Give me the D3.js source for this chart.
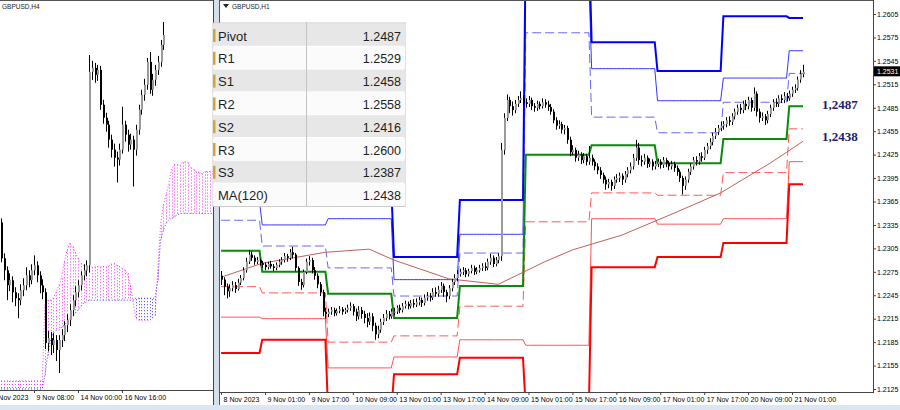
<!DOCTYPE html>
<html>
<head>
<meta charset="utf-8">
<script src="https://cdn.jsdelivr.net/npm/d3@7"></script>
<style>
  body { margin: 0; background: #fff; }
  svg { display: block; font-family: "Liberation Sans", Arial, sans-serif; }
</style>
</head>
<body>
<div id="chart"></div>
<script>
// ---------- H1 chart (right panel) ----------
const h1TickBars = [0, 16, 32, 48, 64, 80, 96, 112, 128, 144, 160, 176, 192, 208];
const h1TickLabels = ["8 Nov 2023", "9 Nov 01:00", "9 Nov 17:00", "10 Nov 09:00", "13 Nov 01:00",
  "13 Nov 17:00", "14 Nov 09:00", "15 Nov 01:00", "15 Nov 17:00", "16 Nov 09:00",
  "17 Nov 01:00", "17 Nov 17:00", "20 Nov 09:00", "21 Nov 01:00"];

const h1Open0 = 1.2270;
const h1Close = [
  1.2265, 1.2256, 1.2250, 1.2254, 1.2258, 1.2253, 1.2261, 1.2267, 1.2277, 1.2288, 1.2297, 1.2293, 1.2288, 1.2290, 1.2286,
  1.2284, 1.2281, 1.2285, 1.2282, 1.2280, 1.2284, 1.2288, 1.2290, 1.2295, 1.2293, 1.2300, 1.2297, 1.2280, 1.2262, 1.2258, 1.2275, 1.2288, 1.2290, 1.2277, 1.2270, 1.2259, 1.2249, 1.2224, 1.2221,
  1.2224, 1.2226, 1.2222, 1.2225, 1.2227, 1.2224, 1.2226, 1.2229, 1.2231, 1.2224, 1.2218, 1.2226, 1.2221, 1.2216, 1.2211, 1.2218, 1.2206, 1.2195, 1.2201, 1.2211, 1.2216, 1.2221, 1.2218, 1.2224,
  1.2224, 1.2229, 1.2226, 1.2231, 1.2234, 1.2231, 1.2235, 1.2233, 1.2236, 1.2239, 1.2235, 1.2242, 1.2244, 1.2242, 1.2249, 1.2247, 1.2252, 1.2257, 1.2249, 1.2244, 1.2254, 1.2262, 1.2267, 1.2272,
  1.2275, 1.2277, 1.2272, 1.2276, 1.2280, 1.2275, 1.2277, 1.2280, 1.2282, 1.2280, 1.2288, 1.2293, 1.2285, 1.2290, 1.2295, 1.2431, 1.2472, 1.2495, 1.2487, 1.2482, 1.2490, 1.2495, 1.2497, 1.2492,
  1.2490, 1.2495, 1.2487, 1.2485, 1.2490, 1.2487, 1.2492, 1.2489, 1.2486, 1.2480, 1.2469, 1.2462, 1.2464, 1.2457, 1.2459, 1.2444, 1.2428, 1.2431, 1.2421, 1.2425, 1.2418, 1.2423, 1.2416, 1.2421,
  1.2416, 1.2410, 1.2405, 1.2399, 1.2393, 1.2387, 1.2390, 1.2385, 1.2393, 1.2395, 1.2398, 1.2393, 1.2400, 1.2405, 1.2410, 1.2421, 1.2434, 1.2418, 1.2416, 1.2421, 1.2413, 1.2416, 1.2410, 1.2413,
  1.2416, 1.2412, 1.2418, 1.2414, 1.2410, 1.2413, 1.2408, 1.2403, 1.2395, 1.2385, 1.2393, 1.2403, 1.2410, 1.2418, 1.2416, 1.2423, 1.2421, 1.2431, 1.2436, 1.2441, 1.2449, 1.2454, 1.2459, 1.2462,
  1.2464, 1.2469, 1.2467, 1.2474, 1.2480, 1.2485, 1.2482, 1.2490, 1.2487, 1.2495, 1.2485, 1.2503, 1.2480, 1.2472, 1.2474, 1.2469, 1.2477, 1.2485, 1.2492, 1.2490, 1.2497, 1.2495, 1.2500, 1.2497,
  1.2503, 1.2508, 1.2510, 1.2521, 1.2528, 1.2531
];
const h1High = [
  1.2276, 1.2268, 1.2260, 1.2259, 1.2263, 1.2262, 1.2266, 1.2271, 1.2281, 1.2293, 1.2303, 1.2301, 1.2296, 1.2294, 1.2292,
  1.2289, 1.2287, 1.2288, 1.2289, 1.2285, 1.2287, 1.2291, 1.2294, 1.2299, 1.2298, 1.2304, 1.2307, 1.2299, 1.2282, 1.2266, 1.2278, 1.2292, 1.2295, 1.2293, 1.2281, 1.2273, 1.2262, 1.2252, 1.2229,
  1.2228, 1.2230, 1.2229, 1.2228, 1.2231, 1.2230, 1.2229, 1.2233, 1.2236, 1.2234, 1.2228, 1.2231, 1.2230, 1.2225, 1.2222, 1.2223, 1.2222, 1.2210, 1.2206, 1.2215, 1.2221, 1.2226, 1.2225, 1.2228,
  1.2229, 1.2232, 1.2233, 1.2235, 1.2238, 1.2237, 1.2239, 1.2240, 1.2241, 1.2243, 1.2242, 1.2246, 1.2249, 1.2248, 1.2254, 1.2255, 1.2257, 1.2262, 1.2260, 1.2252, 1.2258, 1.2266, 1.2272, 1.2277,
  1.2279, 1.2281, 1.2280, 1.2279, 1.2284, 1.2283, 1.2281, 1.2284, 1.2286, 1.2287, 1.2292, 1.2298, 1.2296, 1.2294, 1.2299, 1.2440, 1.2478, 1.2502, 1.2499, 1.2493, 1.2495, 1.2500, 1.2506, 1.2501,
  1.2497, 1.2500, 1.2498, 1.2491, 1.2494, 1.2493, 1.2497, 1.2496, 1.2494, 1.2490, 1.2483, 1.2473, 1.2469, 1.2467, 1.2463, 1.2462, 1.2448, 1.2437, 1.2434, 1.2430, 1.2428, 1.2427, 1.2426, 1.2436,
  1.2425, 1.2419, 1.2414, 1.2409, 1.2402, 1.2397, 1.2394, 1.2393, 1.2397, 1.2400, 1.2402, 1.2401, 1.2404, 1.2409, 1.2415, 1.2426, 1.2444, 1.2440, 1.2424, 1.2426, 1.2424, 1.2420, 1.2419, 1.2417,
  1.2420, 1.2419, 1.2422, 1.2421, 1.2417, 1.2417, 1.2416, 1.2411, 1.2406, 1.2398, 1.2397, 1.2407, 1.2414, 1.2422, 1.2423, 1.2427, 1.2428, 1.2435, 1.2440, 1.2446, 1.2453, 1.2459, 1.2463, 1.2467,
  1.2468, 1.2473, 1.2474, 1.2478, 1.2484, 1.2489, 1.2490, 1.2494, 1.2495, 1.2499, 1.2498, 1.2511, 1.2506, 1.2484, 1.2479, 1.2477, 1.2481, 1.2489, 1.2496, 1.2497, 1.2501, 1.2502, 1.2505, 1.2504,
  1.2507, 1.2512, 1.2515, 1.2525, 1.2533, 1.2540
];
const h1Low = [
  1.2258, 1.2245, 1.2241, 1.2243, 1.2250, 1.2248, 1.2251, 1.2258, 1.2264, 1.2274, 1.2285, 1.2289, 1.2284, 1.2285, 1.2283,
  1.2280, 1.2277, 1.2278, 1.2279, 1.2276, 1.2277, 1.2281, 1.2284, 1.2287, 1.2288, 1.2290, 1.2292, 1.2276, 1.2257, 1.2252, 1.2255, 1.2272, 1.2283, 1.2273, 1.2265, 1.2254, 1.2244, 1.2218, 1.2215,
  1.2217, 1.2220, 1.2218, 1.2219, 1.2222, 1.2220, 1.2221, 1.2223, 1.2225, 1.2219, 1.2212, 1.2214, 1.2215, 1.2209, 1.2204, 1.2207, 1.2199, 1.2188, 1.2190, 1.2197, 1.2207, 1.2212, 1.2214, 1.2215,
  1.2219, 1.2221, 1.2222, 1.2223, 1.2228, 1.2227, 1.2228, 1.2229, 1.2230, 1.2232, 1.2230, 1.2232, 1.2238, 1.2237, 1.2239, 1.2243, 1.2243, 1.2248, 1.2243, 1.2236, 1.2240, 1.2250, 1.2258, 1.2263,
  1.2269, 1.2271, 1.2268, 1.2269, 1.2273, 1.2271, 1.2272, 1.2274, 1.2276, 1.2276, 1.2277, 1.2284, 1.2281, 1.2282, 1.2286, 1.2289, 1.2425, 1.2468, 1.2478, 1.2475, 1.2478, 1.2486, 1.2491, 1.2488,
  1.2485, 1.2486, 1.2482, 1.2480, 1.2481, 1.2483, 1.2484, 1.2485, 1.2481, 1.2476, 1.2465, 1.2457, 1.2458, 1.2452, 1.2451, 1.2439, 1.2423, 1.2424, 1.2416, 1.2417, 1.2413, 1.2414, 1.2411, 1.2412,
  1.2411, 1.2405, 1.2400, 1.2394, 1.2388, 1.2380, 1.2382, 1.2379, 1.2381, 1.2389, 1.2390, 1.2386, 1.2389, 1.2396, 1.2401, 1.2406, 1.2417, 1.2412, 1.2410, 1.2412, 1.2408, 1.2409, 1.2405, 1.2406,
  1.2409, 1.2407, 1.2408, 1.2409, 1.2405, 1.2406, 1.2403, 1.2398, 1.2390, 1.2374, 1.2380, 1.2389, 1.2399, 1.2406, 1.2411, 1.2412, 1.2416, 1.2418, 1.2426, 1.2432, 1.2437, 1.2445, 1.2450, 1.2455,
  1.2457, 1.2460, 1.2462, 1.2463, 1.2470, 1.2476, 1.2477, 1.2478, 1.2482, 1.2483, 1.2480, 1.2481, 1.2474, 1.2466, 1.2468, 1.2463, 1.2465, 1.2473, 1.2481, 1.2486, 1.2486, 1.2491, 1.2491, 1.2493,
  1.2494, 1.2499, 1.2504, 1.2507, 1.2517, 1.2524
];

// first bar of each trading day (8, 9, 10, 13, 14, 15, 16, 17, 20, 21 Nov)
const dayStart = [0, 15, 39, 63, 87, 111, 135, 159, 183, 207];
// daily pivot levels, one value per day
const levelR3 = [1.2400, 1.2375, 1.2385, 1.2294, 1.2367, 1.2700, 1.2569, 1.2532, 1.2602, 1.2600];
const levelR2 = [1.2365, 1.2335, 1.2343, 1.2265, 1.2323, 1.2650, 1.2535, 1.2494, 1.2523, 1.2558];
const levelR1 = [1.2341, 1.2308, 1.2280, 1.2244, 1.2299, 1.2581, 1.2473, 1.2453, 1.2492, 1.2529];
const levelP  = [1.2302, 1.2275, 1.2247, 1.2216, 1.2257, 1.2425, 1.2437, 1.2414, 1.2445, 1.2487];
const levelS1 = [1.2256, 1.2248, 1.2185, 1.2193, 1.2231, 1.2339, 1.2376, 1.2373, 1.2402, 1.2458];
const levelS2 = [1.2217, 1.2215, 1.2152, 1.2166, 1.2188, 1.2181, 1.2343, 1.2336, 1.2343, 1.2416];
const levelS3 = [1.2171, 1.2188, 1.2095, 1.2144, 1.2165, 1.2100, 1.2281, 1.2294, 1.2312, 1.2387];

// MA(120) read at a few bars
const maBar   = [0, 15, 38, 54, 63, 83, 101, 118, 128, 146, 165, 182, 190, 200, 212];
const maValue = [1.2268, 1.2286, 1.2300, 1.2304, 1.2290, 1.2266, 1.2259, 1.2288, 1.2303, 1.2322, 1.2350, 1.2376, 1.2393, 1.2414, 1.2442];

const priceTicks = [1.2125, 1.2155, 1.2185, 1.2215, 1.2245, 1.2275, 1.2305, 1.2335, 1.2365,
  1.2395, 1.2425, 1.2455, 1.2485, 1.2515, 1.2545, 1.2575, 1.2605];
const lastPrice = 1.2531;

const tableNames  = ["Pivot", "R1", "S1", "R2", "S2", "R3", "S3", "MA(120)"];
const tableValues = ["1.2487", "1.2529", "1.2458", "1.2558", "1.2416", "1.2600", "1.2387", "1.2438"];
const noteValues  = [1.2487, 1.2438];
const noteTexts   = ["1,2487", "1,2438"];

// ---------- H4 chart (left panel) ----------
const h4TickBars = [-4, 12, 28, 44];
const h4TickLabels = ["6 Nov 2023", "9 Nov 08:00", "14 Nov 00:00", "16 Nov 16:00"];
const h4Open0 = 1.2339;
const h4Close = [
  1.2303, 1.2291, 1.2276, 1.2281, 1.2269, 1.2263, 1.2261, 1.2271, 1.2276, 1.2286,
  1.2281, 1.2291, 1.2296, 1.2286, 1.2276, 1.2269, 1.2218, 1.2223, 1.2216, 1.2221,
  1.2211, 1.2221, 1.2226, 1.2236, 1.2241, 1.2251, 1.2261, 1.2269, 1.2276, 1.2286,
  1.2291, 1.2296, 1.2490, 1.2494, 1.2487, 1.2492, 1.2457, 1.2444, 1.2437, 1.2422,
  1.2412, 1.2404, 1.2402, 1.2412, 1.2437, 1.2427, 1.2417, 1.2422, 1.2412, 1.2432,
  1.2452, 1.2467, 1.2477, 1.2500, 1.2472, 1.2482, 1.2492, 1.2500, 1.2517, 1.2527
];
const h4High = [
  1.2343, 1.2308, 1.2295, 1.2288, 1.2285, 1.2274, 1.2268, 1.2277, 1.2283, 1.2294,
  1.2291, 1.2297, 1.2306, 1.2300, 1.2290, 1.2282, 1.2273, 1.2230, 1.2229, 1.2228,
  1.2226, 1.2226, 1.2232, 1.2240, 1.2247, 1.2257, 1.2266, 1.2275, 1.2281, 1.2290,
  1.2297, 1.2301, 1.2507, 1.2501, 1.2499, 1.2497, 1.2496, 1.2462, 1.2449, 1.2441,
  1.2427, 1.2418, 1.2410, 1.2418, 1.2455, 1.2441, 1.2432, 1.2428, 1.2426, 1.2437,
  1.2457, 1.2472, 1.2483, 1.2504, 1.2510, 1.2488, 1.2497, 1.2506, 1.2522, 1.2540
];
const h4Low = [
  1.2299, 1.2281, 1.2261, 1.2270, 1.2259, 1.2255, 1.2243, 1.2256, 1.2265, 1.2271,
  1.2274, 1.2277, 1.2286, 1.2279, 1.2268, 1.2262, 1.2212, 1.2210, 1.2206, 1.2208,
  1.2200, 1.2188, 1.2214, 1.2220, 1.2229, 1.2235, 1.2245, 1.2255, 1.2264, 1.2271,
  1.2281, 1.2285, 1.2289, 1.2482, 1.2479, 1.2481, 1.2452, 1.2438, 1.2430, 1.2414,
  1.2404, 1.2395, 1.2379, 1.2396, 1.2408, 1.2420, 1.2410, 1.2412, 1.2375, 1.2406,
  1.2427, 1.2447, 1.2461, 1.2472, 1.2468, 1.2466, 1.2476, 1.2487, 1.2495, 1.2512
];
// Ichimoku spans (shifted forward), one value per bar slot
const spanA = [
  1.2180, 1.2180, 1.2180, 1.2180, 1.2180, 1.2180, 1.2180, 1.2180, 1.2180, 1.2180, 1.2180, 1.2180, 1.2180, 1.2180, 1.2180, 1.2180,
  1.2259, 1.2261, 1.2261, 1.2263, 1.2269, 1.2276, 1.2283, 1.2299, 1.2311, 1.2318,
  1.2315, 1.2309, 1.2303, 1.2298, 1.2296, 1.2295, 1.2295, 1.2294, 1.2294, 1.2295,
  1.2294, 1.2295, 1.2294, 1.2295, 1.2297, 1.2298, 1.2296, 1.2295, 1.2293, 1.2291,
  1.2288, 1.2276, 1.2261, 1.2243, 1.2241, 1.2241, 1.2241, 1.2241, 1.2241, 1.2243,
  1.2246, 1.2291, 1.2336, 1.2356, 1.2367, 1.2377, 1.2392, 1.2397, 1.2397, 1.2396,
  1.2399, 1.2400, 1.2399, 1.2394, 1.2392, 1.2390, 1.2389, 1.2388, 1.2390, 1.2390,
  1.2390, 1.2390
];
const spanB = [
  1.2172, 1.2172, 1.2172, 1.2172, 1.2172, 1.2172, 1.2172, 1.2172, 1.2172, 1.2172, 1.2172, 1.2172, 1.2172, 1.2172, 1.2172, 1.2172,
  1.2186, 1.2206, 1.2221, 1.2228, 1.2231, 1.2231, 1.2234, 1.2236, 1.2239, 1.2243, 1.2245, 1.2248, 1.2251, 1.2255, 1.2258, 1.2259,
  1.2261, 1.2261, 1.2261, 1.2261, 1.2261, 1.2261, 1.2261, 1.2261, 1.2261, 1.2261, 1.2261, 1.2261, 1.2261, 1.2261, 1.2261, 1.2261, 1.2261,
  1.2263, 1.2263, 1.2263, 1.2263, 1.2263, 1.2263, 1.2263, 1.2263,
  1.2281, 1.2321, 1.2331, 1.2338, 1.2341, 1.2343, 1.2345, 1.2346,
  1.2348, 1.2348, 1.2348, 1.2348, 1.2348, 1.2348, 1.2348, 1.2348, 1.2348, 1.2348, 1.2348, 1.2348, 1.2348
];

// ---------- drawing ----------
const svg = d3.select("#chart").append("svg")
  .attr("width", 900)
  .attr("height", 410);

// window chrome
svg.append("rect").attr("width", 900).attr("height", 410).attr("fill", "#fff");
svg.append("rect").attr("x", 214).attr("y", 0).attr("width", 5).attr("height", 410).attr("fill", "#d6e0ec");
svg.append("rect").attr("x", 0).attr("y", 405).attr("width", 900).attr("height", 5).attr("fill", "#dbe6f2");

const defs = svg.append("defs");
defs.append("clipPath").attr("id", "clipR").append("rect")
  .attr("x", 220).attr("y", 1).attr("width", 653).attr("height", 391);
defs.append("clipPath").attr("id", "clipL").append("rect")
  .attr("x", 0).attr("y", 1).attr("width", 213).attr("height", 389);

// candlestick helper
const drawCandles = (g, x, y, open0, closes, highs, lows) => {
  const bars = closes.map((c, i) => ({
    i, c, h: highs[i], l: lows[i], o: i === 0 ? open0 : closes[i - 1]
  }));
  g.selectAll(null).data(bars).enter().append("line")
    .attr("x1", d => Math.round(x(d.i)) + 0.5)
    .attr("x2", d => Math.round(x(d.i)) + 0.5)
    .attr("y1", d => y(d.h))
    .attr("y2", d => y(d.l))
    .attr("stroke", "#000");
  g.selectAll(null).data(bars).enter().append("rect")
    .attr("x", d => Math.round(x(d.i)))
    .attr("width", 2)
    .attr("y", d => y(Math.max(d.o, d.c)))
    .attr("height", d => Math.max(1, Math.abs(y(d.o) - y(d.c))))
    .attr("fill", d => d.c >= d.o ? "#9a9a9a" : "#000");
};

// ===== left panel: H4 with Ichimoku cloud =====
const xL = d3.scaleLinear().domain([12, 44]).range([34, 122]);
const yL = d3.scaleLinear().domain([1.2188, 1.2540]).range([373, 22]);

const gL = svg.append("g").attr("clip-path", "url(#clipL)");
const cloud = spanA.map((a, k) => ({ k, a, b: spanB[k] }));
gL.selectAll(null).data(cloud).enter().append("line")
  .attr("x1", d => Math.round(xL(d.k)) + 0.5)
  .attr("x2", d => Math.round(xL(d.k)) + 0.5)
  .attr("y1", d => yL(d.a))
  .attr("y2", d => yL(d.b))
  .attr("stroke", d => d.a >= d.b ? "#ff33ff" : "#4646ff")
  .attr("stroke-dasharray", "1,2");
gL.append("path")
  .attr("d", d3.line().x((d, k) => xL(k)).y(d => yL(d))(spanA))
  .attr("fill", "none").attr("stroke", "#ff33ff").attr("stroke-dasharray", "1,2");
gL.append("path")
  .attr("d", d3.line().x((d, k) => xL(k)).y(d => yL(d))(spanB))
  .attr("fill", "none").attr("stroke", "#3c3cff").attr("stroke-dasharray", "1,2");

drawCandles(gL, xL, yL, h4Open0, h4Close, h4High, h4Low);

// left frame + time axis
svg.append("line").attr("x1", 0).attr("x2", 213).attr("y1", 0.5).attr("y2", 0.5).attr("stroke", "#555");
svg.append("line").attr("x1", 213.5).attr("x2", 213.5).attr("y1", 0).attr("y2", 405).attr("stroke", "#444");
svg.append("line").attr("x1", 0).attr("x2", 213).attr("y1", 390.5).attr("y2", 390.5).attr("stroke", "#444");
svg.append("g")
  .attr("transform", "translate(0,390)")
  .call(d3.axisBottom(xL).tickValues(h4TickBars).tickFormat((d, i) => h4TickLabels[i]).tickSize(3).tickPadding(2))
  .call(g => g.select(".domain").remove())
  .call(g => g.selectAll("line").attr("stroke", "#444"))
  .call(g => g.selectAll("text").attr("text-anchor", "start").attr("dx", 2)
    .attr("font-size", 7).attr("font-family", "Liberation Sans, Arial, sans-serif").attr("fill", "#000"));
svg.append("text").attr("x", 2).attr("y", 8.5)
  .attr("font-size", 6.5).attr("fill", "#222").text("GBPUSD,H4");

// ===== right panel: H1 with daily pivots =====
const xR = d3.scaleLinear().domain([16, 208]).range([265, 792]);
const yR = d3.scaleLinear().domain([1.2125, 1.2605]).range([389, 14]);
const gR = svg.append("g").attr("clip-path", "url(#clipR)");

const dayOfBar = h1Close.map((c, i) => d3.bisectRight(dayStart, i) - 1);
const levelLine = d3.line().x((d, i) => xR(i)).y(d => yR(d));
const pivotSeries = [
  { values: levelR2, color: "#3535ff", width: 1, dash: null },
  { values: levelR1, color: "#6464ff", width: 1, dash: "9,4" },
  { values: levelS1, color: "#ff5555", width: 1, dash: "9,4" },
  { values: levelS2, color: "#ff5050", width: 1, dash: null },
  { values: levelR3, color: "#0000ff", width: 2, dash: null },
  { values: levelS3, color: "#ff0000", width: 2, dash: null },
  { values: levelP,  color: "#0a8a0a", width: 2, dash: null }
];
pivotSeries.forEach(s => {
  gR.append("path")
    .attr("d", levelLine(dayOfBar.map(k => s.values[k])))
    .attr("fill", "none")
    .attr("stroke", s.color)
    .attr("stroke-width", s.width)
    .attr("stroke-dasharray", s.dash);
});

// MA(120)
gR.append("path")
  .attr("d", d3.line().x((d, i) => xR(maBar[i])).y(d => yR(d))(maValue))
  .attr("fill", "none").attr("stroke", "#c0605a").attr("stroke-width", 1);

drawCandles(gR, xR, yR, h1Open0, h1Close, h1High, h1Low);

// right frame
svg.append("line").attr("x1", 219).attr("x2", 874).attr("y1", 0.5).attr("y2", 0.5).attr("stroke", "#555");
svg.append("line").attr("x1", 219.5).attr("x2", 219.5).attr("y1", 0).attr("y2", 405).attr("stroke", "#555");
svg.append("line").attr("x1", 873.5).attr("x2", 873.5).attr("y1", 0).attr("y2", 393).attr("stroke", "#444");
svg.append("line").attr("x1", 219).attr("x2", 874).attr("y1", 392.5).attr("y2", 392.5).attr("stroke", "#444");

// price axis
svg.append("g")
  .attr("transform", "translate(873,0)")
  .call(d3.axisRight(yR).tickValues(priceTicks).tickFormat(d3.format(".4f")).tickSize(3).tickPadding(1))
  .call(g => g.select(".domain").remove())
  .call(g => g.selectAll("line").attr("stroke", "#444"))
  .call(g => g.selectAll("text").attr("font-size", 7)
    .attr("font-family", "Liberation Sans, Arial, sans-serif").attr("fill", "#000"));

// last price marker
svg.append("rect").attr("x", 874).attr("y", yR(lastPrice) - 5.5)
  .attr("width", 26).attr("height", 10).attr("fill", "#000");
svg.append("text").attr("x", 877).attr("y", yR(lastPrice) + 2.3)
  .attr("font-size", 7).attr("fill", "#fff").text(d3.format(".4f")(lastPrice));

// time axis
svg.append("g")
  .attr("transform", "translate(0,392)")
  .call(d3.axisBottom(xR).tickValues(h1TickBars).tickFormat((d, i) => h1TickLabels[i]).tickSize(3).tickPadding(2))
  .call(g => g.select(".domain").remove())
  .call(g => g.selectAll("line").attr("stroke", "#444"))
  .call(g => g.selectAll("text").attr("text-anchor", "start").attr("dx", 2)
    .attr("font-size", 7).attr("font-family", "Liberation Sans, Arial, sans-serif").attr("fill", "#000"));

// chart title
svg.append("path").attr("d", "M223,4 L229,4 L226,8 Z").attr("fill", "#222");
svg.append("text").attr("x", 232).attr("y", 8.5)
  .attr("font-size", 6.5).attr("fill", "#222").text("GBPUSD,H1");

// level notes at the right
svg.selectAll(".note")
  .data(noteValues)
  .enter()
  .append("text")
  .attr("class", "note")
  .attr("x", 822)
  .attr("y", (d, i) => yR(d) + (i === 0 ? 3 : -3.5))
  .attr("font-family", "Liberation Serif, Times New Roman, serif")
  .attr("font-weight", "bold")
  .attr("font-size", 13)
  .attr("fill", "#1c1c72")
  .text((d, i) => noteTexts[i]);

// pivot table overlay
const rowH = 22.8, tableTop = 24;
const table = svg.append("g");
table.append("rect").attr("x", 213).attr("y", tableTop - 1).attr("width", 192).attr("height", rowH * 8 + 1)
  .attr("fill", "#fff").attr("stroke", "#c8c8c8");
const rows = table.selectAll(".row")
  .data(tableNames)
  .enter()
  .append("g")
  .attr("class", "row")
  .attr("transform", (d, i) => `translate(213,${tableTop + i * rowH})`);
rows.append("rect")
  .attr("width", 192).attr("height", rowH - 1)
  .attr("fill", (d, i) => i % 2 === 0 ? "#e7e7e7" : "#fbfbfb");
rows.append("rect")
  .attr("x", 0).attr("y", 5).attr("width", 2.5).attr("height", 13)
  .attr("fill", (d, i) => i < 7 ? "#d6a23a" : "none");
rows.append("text")
  .attr("x", 5).attr("y", 16.5)
  .attr("font-size", 13).attr("fill", "#1e1e1e")
  .text(d => d);
rows.append("text")
  .attr("x", 188).attr("y", 16.5)
  .attr("text-anchor", "end")
  .attr("font-size", 12.5).attr("fill", "#1e1e1e")
  .text((d, i) => tableValues[i]);
table.append("line").attr("x1", 306.5).attr("x2", 306.5)
  .attr("y1", tableTop - 2).attr("y2", tableTop + rowH * 8)
  .attr("stroke", "#c4c4c4");
</script>
</body>
</html>
